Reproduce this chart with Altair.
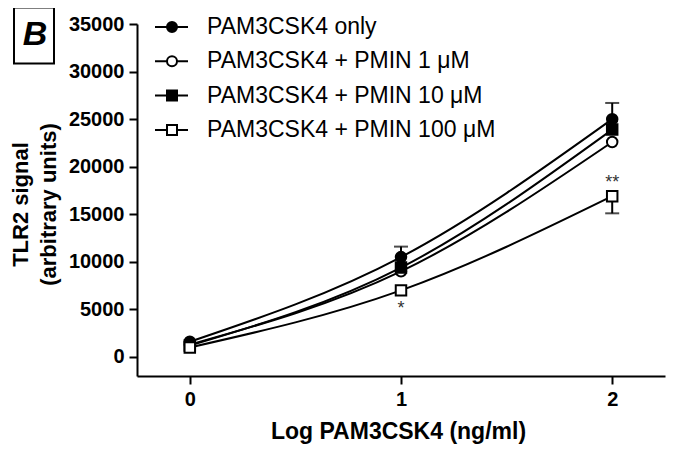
import altair as alt
import pandas as pd

# ---- data ----
dose = [0, 1, 2]
series = ["PAM3CSK4 only", "PAM3CSK4 + PMIN 1 \u03bcM",
          "PAM3CSK4 + PMIN 10 \u03bcM", "PAM3CSK4 + PMIN 100 \u03bcM"]
only = [1600, 10500, 25000]
pmin1 = [1300, 9000, 22600]
pmin10 = [1200, 9400, 23900]
pmin100 = [1000, 7000, 16900]

# visible error bar ends
err_series = [series[0], series[0], series[3]]
err_dose = [1, 2, 2]
err_from = [10500, 25000, 16900]
err_to = [11600, 26700, 15100]

# significance marks
sig_dose = [1, 2]
sig_value = [7000, 16900]
sig_text = ["*", "**"]

xticks = [0, 1, 2]
yticks = [0, 5000, 10000, 15000, 20000, 25000, 30000, 35000]

# ---- tables ----
vals = [only, pmin1, pmin10, pmin100]
rows = []
for s, v in zip(series, vals):
    for d, y in zip(dose, v):
        rows.append({"series": s, "dose": d, "signal": y})
df = pd.DataFrame(rows)
err = pd.DataFrame({"series": err_series, "dose": err_dose, "lo": err_from, "hi": err_to})
leg = pd.DataFrame({"series": series, "row": list(range(len(series)))})
leg["py"] = 3 + leg["row"] * 34.3

FONT = "Liberation Sans"
xs = alt.Scale(domain=[-0.25, 2.25], nice=False, zero=False)
ys = alt.Scale(domain=[-2000, 35000], nice=False, zero=False)
shape_s = alt.Scale(domain=series, range=["circle", "circle", "square", "square"])
fill_s = alt.Scale(domain=series, range=["black", "white", "black", "white"])

X = alt.X("dose:Q", scale=xs,
          axis=alt.Axis(values=xticks, format="d", title="Log PAM3CSK4 (ng/ml)",
                        titleX=261, titleY=62, titleBaseline="alphabetic"))
Y = alt.Y("signal:Q", scale=ys,
          axis=alt.Axis(values=yticks, format="d", title=["TLR2 signal", "(arbitrary units)"],
                        titleX=-117, titleY=180, titleAngle=-90, titleBaseline="middle",
                        titleAlign="center", titleLineHeight=28, titleFontSize=22))

lines = alt.Chart(df).mark_line(interpolate="monotone", color="black", strokeWidth=2).encode(
    x=X, y=Y, detail="series:N")

bars = alt.Chart(err).mark_rule(color="black", strokeWidth=2).encode(
    x=alt.X("dose:Q", scale=xs), y=alt.Y("lo:Q", scale=ys), y2="hi:Q")
caps = alt.Chart(err).mark_tick(color="black", orient="horizontal", size=14, thickness=2).encode(
    x=alt.X("dose:Q", scale=xs), y=alt.Y("hi:Q", scale=ys))

pts = alt.Chart(df).mark_point(filled=False, strokeWidth=2, size=110, opacity=1, stroke="black").encode(
    x=alt.X("dose:Q", scale=xs), y=alt.Y("signal:Q", scale=ys),
    shape=alt.Shape("series:N", scale=shape_s, legend=None),
    fill=alt.Fill("series:N", scale=fill_s, legend=None))

sig1 = alt.Chart(pd.DataFrame({"d": sig_dose[:1], "v": sig_value[:1], "t": sig_text[:1]})).mark_text(
    font=FONT, fontSize=18, color="#333333", dy=19, baseline="middle").encode(
    x=alt.X("d:Q", scale=xs), y=alt.Y("v:Q", scale=ys), text="t:N")
sig2 = alt.Chart(pd.DataFrame({"d": sig_dose[1:], "v": sig_value[1:], "t": sig_text[1:]})).mark_text(
    font=FONT, fontSize=18, color="#333333", dy=-13, baseline="middle").encode(
    x=alt.X("d:Q", scale=xs), y=alt.Y("v:Q", scale=ys), text="t:N")

# legend (manual)
leg_line = alt.Chart(leg).mark_rule(color="black", strokeWidth=2).encode(
    x=alt.value(18), x2=alt.value(51), y=alt.Y("py:Q", scale=None, axis=None))
leg_pt = alt.Chart(leg).mark_point(filled=False, strokeWidth=2, size=100, opacity=1, stroke="black").encode(
    x=alt.value(35), y=alt.Y("py:Q", scale=None, axis=None),
    shape=alt.Shape("series:N", scale=shape_s, legend=None),
    fill=alt.Fill("series:N", scale=fill_s, legend=None))
leg_txt = alt.Chart(leg).mark_text(font=FONT, fontSize=23, align="left", baseline="middle", color="black").encode(
    x=alt.value(70), y=alt.Y("py:Q", scale=None, axis=None), text="series:N")

# panel label box
one = pd.DataFrame({"k": [0]})
box = alt.Chart(one).mark_point(
    shape="M-1,-1.4L1,-1.4L1,1.4L-1,1.4Z", size=1600, filled=False,
    stroke="black", strokeWidth=2, opacity=1).encode(
    x=alt.value(-103), y=alt.value(11.5))
boxt = alt.Chart(pd.DataFrame({"t": ["B"]})).mark_text(
    font=FONT, fontSize=34, fontStyle="italic", fontWeight="bold", baseline="middle", align="center",
    color="black").encode(x=alt.value(-102), y=alt.value(11), text="t:N")

chart = alt.layer(box, lines, bars, caps, pts, sig1, sig2, leg_line, leg_pt, leg_txt, boxt).properties(
    width=528, height=352,
    autosize=alt.AutoSizeParams(type="none"),
    padding={"left": 129, "top": 16, "right": 2, "bottom": 68},
    background="white",
).configure_view(stroke=None).configure_axis(
    grid=False, domainColor="black", domainWidth=2, tickColor="black", tickWidth=2, tickSize=8,
    labelFont=FONT, labelFontSize=20, labelFontWeight="bold", labelColor="black", labelPadding=5,
    titleFont=FONT, titleFontSize=23, titleFontWeight="bold", titleColor="black",
)

chart.save("out.html", embed_options={"renderer": "svg", "actions": False})
